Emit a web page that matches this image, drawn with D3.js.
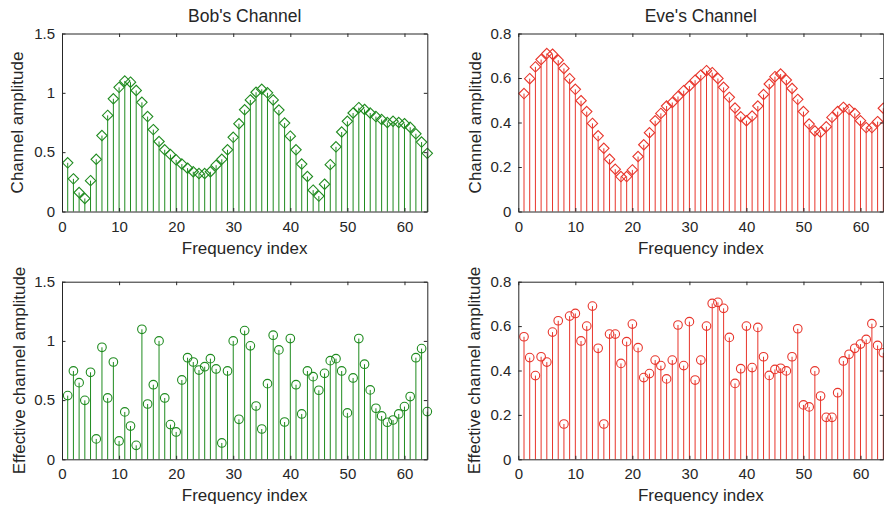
<!DOCTYPE html>
<html>
<head>
<meta charset="utf-8">
<script src="https://cdn.jsdelivr.net/npm/d3@7/dist/d3.min.js"></script>
<style>
  html, body { margin: 0; padding: 0; background: #fff; }
  svg { display: block; font-family: "Liberation Sans", Arial, Helvetica, sans-serif; }
</style>
</head>
<body>
<svg id="chart" width="884" height="507"></svg>
<script>
// ---------------- data ----------------
const freqIndex = d3.range(1, 65);

const bobChannel = [
  0.41, 0.275, 0.16, 0.11, 0.26, 0.44, 0.64, 0.81, 0.95, 1.046,
  1.10, 1.09, 1.02, 0.92, 0.80, 0.69, 0.59, 0.52, 0.48, 0.435,
  0.40, 0.365, 0.335, 0.32, 0.32, 0.335, 0.39, 0.44, 0.52, 0.625,
  0.74, 0.857, 0.94, 1.005, 1.03, 1.0, 0.94, 0.855, 0.745, 0.635,
  0.52, 0.40, 0.295, 0.18, 0.13, 0.23, 0.395, 0.545, 0.67, 0.76,
  0.83, 0.875, 0.86, 0.83, 0.80, 0.775, 0.75, 0.76, 0.75, 0.74,
  0.71, 0.655, 0.585, 0.49
];

const eveChannel = [
  0.53, 0.597, 0.65, 0.683, 0.71, 0.707, 0.68, 0.643, 0.597, 0.549,
  0.498, 0.449, 0.396, 0.34, 0.284, 0.235, 0.19, 0.157, 0.157, 0.187,
  0.247, 0.30, 0.354, 0.408, 0.441, 0.474, 0.49, 0.517, 0.543, 0.564,
  0.59, 0.613, 0.633, 0.624, 0.598, 0.558, 0.513, 0.465, 0.426, 0.408,
  0.429, 0.474, 0.526, 0.573, 0.606, 0.618, 0.591, 0.553, 0.504, 0.449,
  0.393, 0.362, 0.356, 0.381, 0.423, 0.449, 0.468, 0.459, 0.441, 0.408,
  0.377, 0.377, 0.404, 0.464
];

const bobEffective = [
  0.538, 0.746, 0.647, 0.498, 0.735, 0.172, 0.946, 0.518, 0.822, 0.155,
  0.40, 0.281, 0.118, 1.098, 0.467, 0.63, 1.0, 0.518, 0.293, 0.231,
  0.67, 0.858, 0.822, 0.754, 0.782, 0.85, 0.763, 0.138, 0.746, 1.0,
  0.338, 1.087, 0.958, 0.45, 0.256, 0.639, 1.048, 0.924, 0.315, 1.02,
  0.63, 0.383, 0.746, 0.698, 0.583, 0.726, 0.833, 0.85, 0.746, 0.392,
  0.687, 1.02, 0.803, 0.586, 0.431, 0.366, 0.313, 0.332, 0.383, 0.445,
  0.53, 0.858, 0.935, 0.403
];

const eveEffective = [
  0.552, 0.458, 0.377, 0.462, 0.438, 0.573, 0.624, 0.159, 0.645, 0.657,
  0.533, 0.60, 0.69, 0.50, 0.159, 0.564, 0.564, 0.432, 0.53, 0.609,
  0.503, 0.368, 0.386, 0.447, 0.422, 0.362, 0.447, 0.605, 0.422, 0.62,
  0.357, 0.447, 0.60, 0.702, 0.707, 0.68, 0.549, 0.342, 0.408, 0.60,
  0.413, 0.594, 0.462, 0.378, 0.405, 0.41, 0.398, 0.462, 0.588, 0.245,
  0.236, 0.398, 0.285, 0.189, 0.189, 0.30, 0.443, 0.473, 0.50, 0.519,
  0.54, 0.611, 0.513, 0.48
];

const xTicks = [0, 10, 20, 30, 40, 50, 60];
const bobYTicks = [0, 0.5, 1, 1.5];
const eveYTicks = [0, 0.2, 0.4, 0.6, 0.8];
const bobYTickLabels = ["0", "0.5", "1", "1.5"];
const eveYTickLabels = ["0", "0.2", "0.4", "0.6", "0.8"];

const titles = ["Bob's Channel", "Eve's Channel"];
const xLabel = "Frequency index";
const yLabels = ["Channel amplitude", "Effective channel amplitude"];

// ---------------- layout ----------------
const GREEN = "#1f8b1f";
const RED = "#e8352b";
const AXIS = "#262626";

const svg = d3.select("#chart");

const panels = [
  { left: 62,    right: 427.3, top: 33.5,  bottom: 211.5, values: bobChannel,   yMax: 1.5, yTicks: bobYTicks, yTickLabels: bobYTickLabels, color: GREEN, marker: "diamond", title: titles[0], yLabel: yLabels[0], yLabelX: 22.5 },
  { left: 518.3, right: 883.3, top: 33.5,  bottom: 211.5, values: eveChannel,   yMax: 0.8, yTicks: eveYTicks, yTickLabels: eveYTickLabels, color: RED,   marker: "diamond", title: titles[1], yLabel: yLabels[0], yLabelX: 481 },
  { left: 62,    right: 427.3, top: 281.7, bottom: 459.3, values: bobEffective, yMax: 1.5, yTicks: bobYTicks, yTickLabels: bobYTickLabels, color: GREEN, marker: "circle",  title: null,      yLabel: yLabels[1], yLabelX: 24.5 },
  { left: 518.3, right: 883.3, top: 281.7, bottom: 459.3, values: eveEffective, yMax: 0.8, yTicks: eveYTicks, yTickLabels: eveYTickLabels, color: RED,   marker: "circle",  title: null,      yLabel: yLabels[1], yLabelX: 480 }
];

panels.forEach(p => {
  const x = d3.scaleLinear().domain([0, 64]).range([p.left, p.right]);
  const y = d3.scaleLinear().domain([0, p.yMax]).range([p.bottom, p.top]);
  const g = svg.append("g");

  // stems
  g.append("g").selectAll("line")
    .data(p.values)
    .join("line")
    .attr("x1", (d, i) => x(freqIndex[i]))
    .attr("x2", (d, i) => x(freqIndex[i]))
    .attr("y1", y(0))
    .attr("y2", d => y(d))
    .attr("stroke", p.color)
    .attr("stroke-width", 1);

  // markers
  if (p.marker === "diamond") {
    const s = 5.2;
    g.append("g").selectAll("path")
      .data(p.values)
      .join("path")
      .attr("d", (d, i) => {
        const cx = x(freqIndex[i]), cy = y(d);
        return `M${cx},${cy - s}L${cx + s},${cy}L${cx},${cy + s}L${cx - s},${cy}Z`;
      })
      .attr("fill", "none")
      .attr("stroke", p.color)
      .attr("stroke-width", 1.1);
  } else {
    g.append("g").selectAll("circle")
      .data(p.values)
      .join("circle")
      .attr("cx", (d, i) => x(freqIndex[i]))
      .attr("cy", d => y(d))
      .attr("r", 4.3)
      .attr("fill", "none")
      .attr("stroke", p.color)
      .attr("stroke-width", 1.1);
  }

  // axes (ticks inward, box around)
  const tickLen = 3.5;
  const xAxis = d3.axisBottom(x).tickValues(xTicks).tickFormat(d3.format("d"))
    .tickSizeInner(-tickLen).tickSizeOuter(0).tickPadding(9.4);
  const yAxis = d3.axisLeft(y).tickValues(p.yTicks).tickFormat((d, i) => p.yTickLabels[i])
    .tickSizeInner(-tickLen).tickSizeOuter(0).tickPadding(7);
  const xTop = d3.axisTop(x).tickValues(xTicks).tickFormat("")
    .tickSizeInner(-tickLen).tickSizeOuter(0);
  const yRight = d3.axisRight(y).tickValues(p.yTicks).tickFormat("")
    .tickSizeInner(-tickLen).tickSizeOuter(0);

  const axes = [
    g.append("g").attr("transform", `translate(0,${p.bottom})`).call(xAxis),
    g.append("g").attr("transform", `translate(${p.left},0)`).call(yAxis),
    g.append("g").attr("transform", `translate(0,${p.top})`).call(xTop),
    g.append("g").attr("transform", `translate(${p.right},0)`).call(yRight)
  ];
  axes.forEach(a => {
    a.selectAll(".domain").attr("stroke", AXIS).attr("stroke-width", 1);
    a.selectAll(".tick line").attr("stroke", AXIS).attr("stroke-width", 1);
    a.selectAll(".tick text").attr("fill", AXIS).style("font-size", "15px");
    a.attr("font-family", null);
  });

  // title
  if (p.title) {
    g.append("text")
      .attr("x", (p.left + p.right) / 2)
      .attr("y", p.top - 11.5)
      .attr("text-anchor", "middle")
      .attr("fill", AXIS)
      .style("font-size", "17.5px")
      .text(p.title);
  }

  // x label
  g.append("text")
    .attr("x", (p.left + p.right) / 2)
    .attr("y", p.bottom + 42)
    .attr("text-anchor", "middle")
    .attr("fill", AXIS)
    .style("font-size", "17px")
    .text(xLabel);

  // y label
  const cy = (p.top + p.bottom) / 2;
  g.append("text")
    .attr("transform", `translate(${p.yLabelX},${cy}) rotate(-90)`)
    .attr("text-anchor", "middle")
    .attr("fill", AXIS)
    .style("font-size", "17px")
    .text(p.yLabel);
});
</script>
</body>
</html>
